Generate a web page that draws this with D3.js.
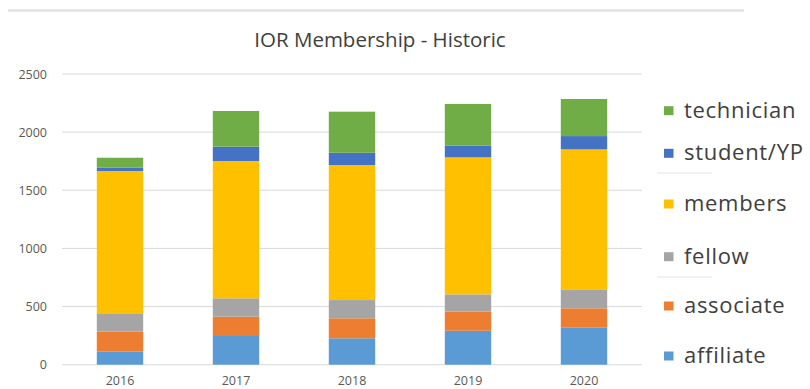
<!DOCTYPE html>
<html>
<head>
<meta charset="utf-8">
<script src="https://cdn.jsdelivr.net/npm/d3@7"></script>
<style>
  html, body { margin: 0; padding: 0; background: #ffffff; }
  svg { display: block; }
  text { font-family: "Open Sans", "Liberation Sans", sans-serif; }
</style>
</head>
<body>
<svg id="chart" width="810" height="389"></svg>
<script>
// ---- data ----
const years = ["2016", "2017", "2018", "2019", "2020"];
const seriesNames = ["affiliate", "associate", "fellow", "members", "student/YP", "technician"];
const affiliate  = [112, 247, 227, 292, 318];
const associate  = [172, 166, 172, 164, 167];
const fellow     = [158, 158, 157, 149, 163];
const members    = [1224, 1181, 1161, 1178, 1204];
const studentYP  = [28, 123, 106, 100, 114];
const technician = [86, 307, 353, 359, 319];
const yTicks = [0, 500, 1000, 1500, 2000, 2500];
const titleText = "IOR Membership - Historic";

// ---- styles / layout ----
const colors = {
  "affiliate": "#5B9BD5", "associate": "#ED7D31", "fellow": "#A5A5A5",
  "members": "#FFC000", "student/YP": "#4472C4", "technician": "#70AD47"
};
const valuesBy = {
  "affiliate": affiliate, "associate": associate, "fellow": fellow,
  "members": members, "student/YP": studentYP, "technician": technician
};
const table = years.map((y, i) => {
  const row = { year: y };
  seriesNames.forEach(s => row[s] = valuesBy[s][i]);
  return row;
});

const svg = d3.select("#chart");
const plot = { left: 62, right: 642, top: 74, bottom: 364.7 };

// top separator line
svg.append("line")
  .attr("x1", 8).attr("x2", 744).attr("y1", 10.5).attr("y2", 10.5)
  .attr("stroke", "#e2e2e2").attr("stroke-width", 2.5);

const x = d3.scaleBand().domain(years).range([plot.left, plot.right]).paddingInner(0.6).paddingOuter(0.3);
const y = d3.scaleLinear().domain([0, 2500]).range([plot.bottom, plot.top]);

// gridlines
svg.append("g").selectAll("line").data(yTicks).join("line")
  .attr("x1", plot.left).attr("x2", plot.right)
  .attr("y1", d => y(d)).attr("y2", d => y(d))
  .attr("stroke", "#d9d9d9").attr("stroke-width", 1);

// y axis labels
const yAxis = d3.axisLeft(y).tickValues(yTicks).tickSize(0).tickPadding(0).tickFormat(d3.format("d"));
const yg = svg.append("g").attr("transform", `translate(${plot.left - 15},0)`).call(yAxis);
yg.select(".domain").remove();
yg.selectAll("text").attr("fill", "#595959").style("font-size", "12.5px")
  .style("font-family", "'Open Sans', sans-serif");

// x axis labels
const xAxis = d3.axisBottom(x).tickSize(0).tickPadding(0);
const xg = svg.append("g").attr("transform", `translate(0,${plot.bottom + 11})`).call(xAxis);
xg.select(".domain").remove();
xg.selectAll("text").attr("fill", "#595959").style("font-size", "12.5px")
  .style("font-family", "'Open Sans', sans-serif");

// stacked bars
const stack = d3.stack().keys(seriesNames)(table);
svg.append("g").selectAll("g").data(stack).join("g")
  .attr("fill", d => colors[d.key])
  .selectAll("rect").data(d => d).join("rect")
  .attr("x", d => x(d.data.year))
  .attr("width", x.bandwidth())
  .attr("y", d => y(d[1]))
  .attr("height", d => y(d[0]) - y(d[1]));

// title
svg.append("text")
  .attr("x", 380).attr("y", 46.5)
  .attr("text-anchor", "middle")
  .attr("fill", "#404040")
  .style("font-size", "20.5px")
  .text(titleText);

// legend
const legendOrder = seriesNames.slice().reverse();
const legendY = [110.7, 153.3, 204, 256.7, 306, 356];
const lg = svg.append("g");
legendOrder.forEach((name, i) => {
  lg.append("rect")
    .attr("x", 664).attr("y", legendY[i] - 4.5)
    .attr("width", 9.5).attr("height", 9)
    .attr("fill", colors[name]);
  lg.append("text")
    .attr("x", 684).attr("y", legendY[i])
    .attr("dy", "0.32em")
    .attr("fill", "#404040")
    .style("font-size", "22px")
    .style("letter-spacing", "0.7px")
    .text(name);
});
// faint leftover rules inside legend area
[173, 277].forEach(yy => {
  lg.append("line").attr("x1", 657).attr("x2", 712).attr("y1", yy).attr("y2", yy)
    .attr("stroke", "#e4e4e4").attr("stroke-width", 1);
});
</script>
</body>
</html>
